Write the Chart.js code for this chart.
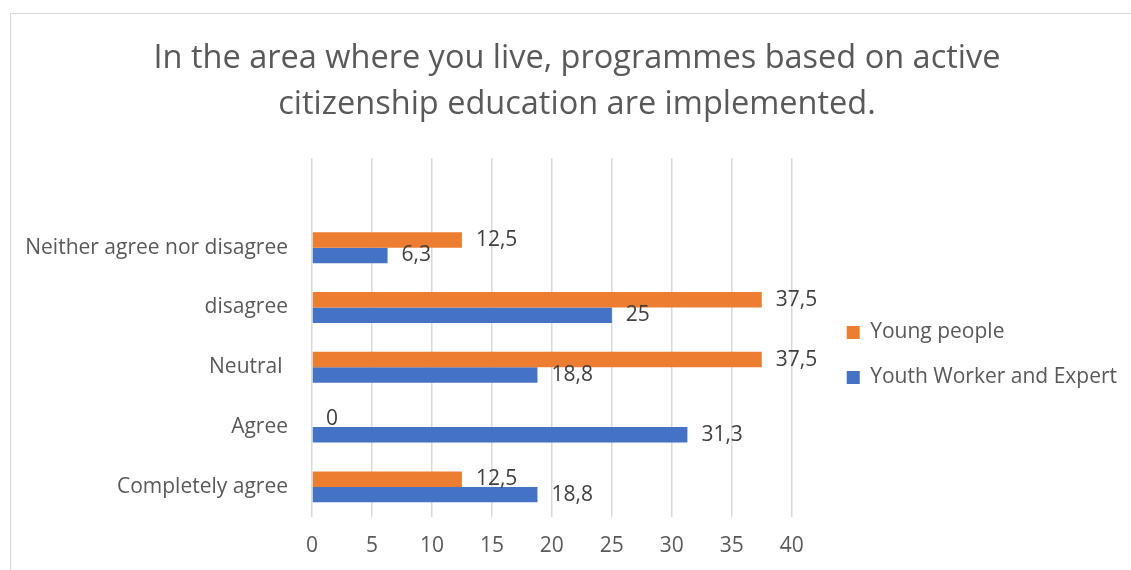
<!DOCTYPE html>
<html>
<head>
<meta charset="utf-8">
<script src="https://cdn.jsdelivr.net/npm/chart.js@4/dist/chart.umd.min.js"></script>
<style>
  html, body { margin: 0; padding: 0; background: #ffffff; overflow: hidden; }
  body { width: 1131px; height: 570px; position: relative; }
  #frame {
    position: absolute; left: 10px; top: 13px;
    width: 1142px; height: 600px;
    border: 1px solid #d9d9d9; background: #ffffff;
  }
  canvas { display: block; }
</style>
</head>
<body>
<div id="frame"><canvas id="chart" width="1142" height="573"></canvas></div>
<script>
// Survey answers (percent); the first, unlabelled row is kept blank
const categories = ['', 'Neither agree nor disagree', 'disagree', 'Neutral ', 'Agree', 'Completely agree'];
const youngPeople = [null, 12.5, 37.5, 37.5, 0, 12.5];
const youthWorkers = [null, 6.3, 25, 18.8, 31.3, 18.8];
const seriesNames = ['Young people', 'Youth Worker and Expert'];
const seriesColors = ['#ED7D31', '#4472C4'];
const titleLines = ['In the area where you live, programmes based on active', 'citizenship education are implemented.'];
const axisMin = 0, axisMax = 40, axisStep = 5;

const FONT = "'Open Sans'";
const LABEL_SIZE = 21;
const formatValue = v => String(v).replace('.', ',');

// Writes each value just past the end of its bar
const valueLabels = {
  id: 'valueLabels',
  afterDatasetsDraw(chart) {
    const ctx = chart.ctx;
    ctx.save();
    ctx.font = LABEL_SIZE + 'px ' + FONT;
    ctx.fillStyle = '#404040';
    ctx.textAlign = 'left';
    ctx.textBaseline = 'middle';
    chart.data.datasets.forEach((ds, i) => {
      chart.getDatasetMeta(i).data.forEach((bar, j) => {
        const v = ds.data[j];
        if (v === null || v === undefined) return;
        ctx.fillText(formatValue(v), bar.x + 14, bar.y);
      });
    });
    ctx.restore();
  }
};

new Chart(document.getElementById('chart'), {
  type: 'bar',
  data: {
    labels: categories,
    datasets: [
      { label: seriesNames[0], data: youngPeople, backgroundColor: seriesColors[0] },
      { label: seriesNames[1], data: youthWorkers, backgroundColor: seriesColors[1] }
    ]
  },
  options: {
    indexAxis: 'y',
    responsive: false,
    animation: false,
    datasets: { bar: { categoryPercentage: 0.517, barPercentage: 1 } },
    layout: { padding: { left: 0, right: 10, top: 0, bottom: 11 } },
    scales: {
      x: {
        min: axisMin, max: axisMax,
        ticks: { stepSize: axisStep, padding: 17, color: '#595959', font: { family: FONT, size: LABEL_SIZE } },
        grid: { color: '#d9d9d9', lineWidth: 1.5, drawTicks: false },
        border: { display: false }
      },
      y: {
        ticks: { padding: 24, color: '#595959', font: { family: FONT, size: LABEL_SIZE } },
        grid: { display: false, drawTicks: false },
        border: { display: false },
        afterFit(scale) { scale.width = 301; }
      },
      // empty strip between the plot and the legend
      gap: {
        type: 'category', axis: 'y', position: 'right', display: true,
        ticks: { display: false },
        grid: { display: false, drawTicks: false },
        border: { display: false },
        afterFit(scale) { scale.width = 31; }
      }
    },
    plugins: {
      title: {
        display: true,
        text: titleLines,
        color: '#595959',
        font: { family: FONT, size: 32.5, weight: 'normal', lineHeight: 46 / 32.5 },
        padding: { top: 22, bottom: 30 }
      },
      // empty strip to the right of the legend
      subtitle: {
        display: true, text: '', position: 'right', weight: 2000, fullSize: false,
        font: { size: 1, lineHeight: 1 }, padding: { top: 15, bottom: 0 }
      },
      legend: {
        position: 'right',
        fullSize: false,
        maxWidth: 400,
        labels: {
          boxWidth: 13, boxHeight: 13, padding: 24,
          color: '#595959', font: { family: FONT, size: LABEL_SIZE }
        },
        title: { display: true, text: '', font: { size: 1 }, padding: { top: 34, bottom: 0 } }
      },
      tooltip: { enabled: false }
    }
  },
  plugins: [valueLabels]
});
</script>
</body>
</html>
